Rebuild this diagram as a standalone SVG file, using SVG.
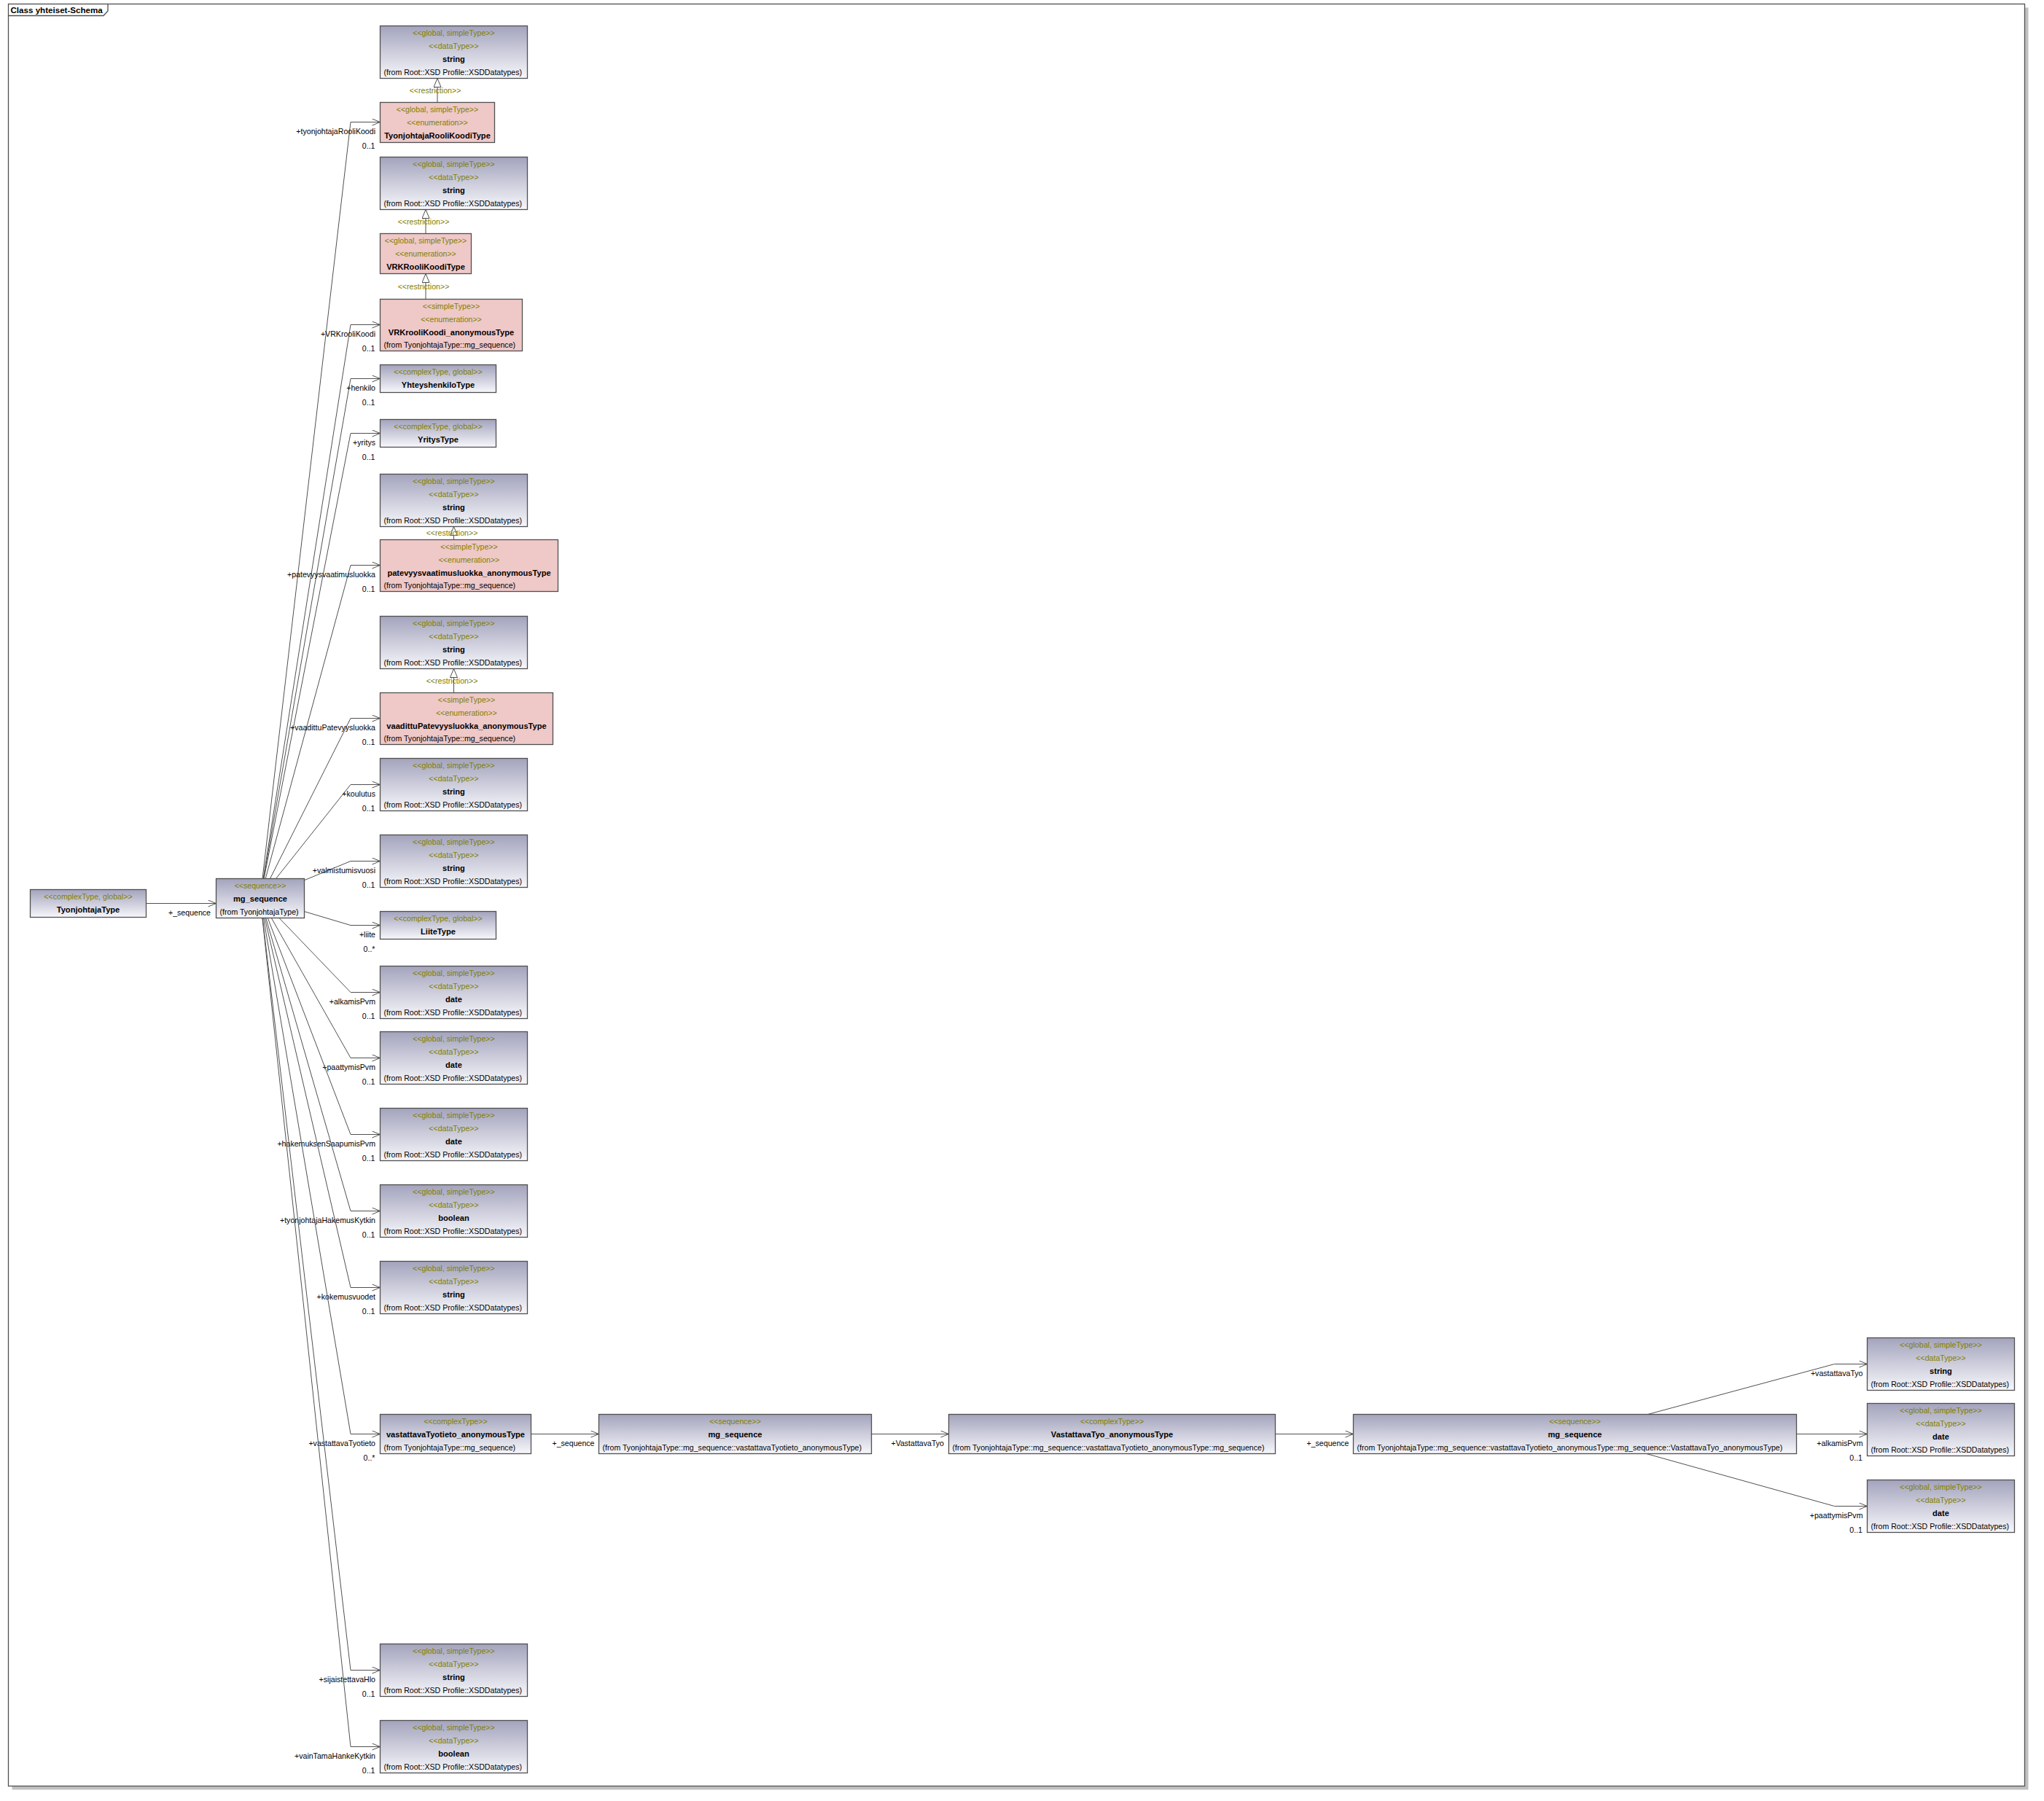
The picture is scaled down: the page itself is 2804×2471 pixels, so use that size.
<svg xmlns="http://www.w3.org/2000/svg" width="2804" height="2471" viewBox="0 0 2804 2471">
<defs>
<linearGradient id="gr" x1="0" y1="0" x2="0" y2="1">
<stop offset="0" stop-color="#a3a3bd"/>
<stop offset="1" stop-color="#f7f7fb"/>
</linearGradient>
<marker id="oa" viewBox="0 0 12 10" refX="11.5" refY="5" markerWidth="12" markerHeight="10" markerUnits="userSpaceOnUse" orient="auto">
<path d="M0.5,0.5 L11.5,5 L0.5,9.5" fill="none" stroke="#505050" stroke-width="1"/>
</marker>
<marker id="tri" viewBox="0 0 13 11" refX="12.5" refY="5.5" markerWidth="13" markerHeight="11" markerUnits="userSpaceOnUse" orient="auto">
<path d="M0.5,0.5 L12.5,5.5 L0.5,10.5 Z" fill="#ffffff" stroke="#505050" stroke-width="1"/>
</marker>
</defs>
<style>
text{font-family:"Liberation Sans",Arial,sans-serif;font-size:10.6px;fill:#000}
.s{fill:#808000;text-anchor:middle}
.n{font-weight:bold;font-size:11.1px;text-anchor:middle}
.f{text-anchor:start}
.r{text-anchor:end}
.m{text-anchor:end;fill:#00001a}
.rs{fill:#808000;text-anchor:middle}
.bx{stroke:#505050;stroke-width:1.3}
.g{fill:url(#gr)}
.p{fill:#efc8c8}
.c{fill:none;stroke:#505050;stroke-width:1}
.a{marker-end:url(#oa)}
.t{marker-end:url(#tri)}
</style>
<rect x="0" y="0" width="2804" height="2471" fill="#ffffff"/>
<g id="frame">
<rect x="16.5" y="10.5" width="2766" height="2445" fill="#c0c0c0"/>
<rect x="11.5" y="5.5" width="2766" height="2445" fill="#ffffff" stroke="#505050" stroke-width="1.3"/>
<path d="M11.5,21.5 H142 L148,15 V5.5" fill="none" stroke="#505050" stroke-width="1.3"/>
<text x="14.5" y="17.5" style="font-weight:bold;font-size:11.6px">Class yhteiset-Schema</text>
</g>
<g id="connectors">
<path class="c t" d="M600,140.5 V107.5"/>
<text class="rs" x="597" y="128.3">&lt;&lt;restriction&gt;&gt;</text>
<path class="c t" d="M584,320.5 V287.5"/>
<text class="rs" x="581" y="308.3">&lt;&lt;restriction&gt;&gt;</text>
<path class="c t" d="M584,410.5 V375.5"/>
<text class="rs" x="581" y="397.3">&lt;&lt;restriction&gt;&gt;</text>
<path class="c t" d="M622.5,740.5 V722.5"/>
<text class="rs" x="620" y="735.3">&lt;&lt;restriction&gt;&gt;</text>
<path class="c t" d="M622.5,950.5 V917.5"/>
<text class="rs" x="620" y="938.3">&lt;&lt;restriction&gt;&gt;</text>
<path class="c a" d="M200.5,1239.5 H296.5"/>
<text class="r" x="289" y="1255.5">+_sequence</text>
<path class="c a" d="M360,1205.5 L481,167.5 H521.5"/>
<text class="r" x="515" y="183.8">+tyonjohtajaRooliKoodi</text>
<text class="m" x="514.5" y="203.5">0..1</text>
<path class="c a" d="M361.1,1205.5 L481,445.5 H521.5"/>
<text class="r" x="515" y="461.8">+VRKrooliKoodi</text>
<text class="m" x="514.5" y="481.5">0..1</text>
<path class="c a" d="M361.6,1205.5 L481,519.5 H521.5"/>
<text class="r" x="515" y="535.8">+henkilo</text>
<text class="m" x="514.5" y="555.5">0..1</text>
<path class="c a" d="M362.1,1205.5 L481,594.5 H521.5"/>
<text class="r" x="515" y="610.8">+yritys</text>
<text class="m" x="514.5" y="630.5">0..1</text>
<path class="c a" d="M364.2,1205.5 L481,775.5 H521.5"/>
<text class="r" x="515" y="791.8">+patevyysvaatimusluokka</text>
<text class="m" x="514.5" y="811.5">0..1</text>
<path class="c a" d="M370.5,1205.5 L481,985.5 H521.5"/>
<text class="r" x="515" y="1001.8">+vaadittuPatevyysluokka</text>
<text class="m" x="514.5" y="1021.5">0..1</text>
<path class="c a" d="M378.5,1205.5 L481,1076.5 H521.5"/>
<text class="r" x="515" y="1092.8">+koulutus</text>
<text class="m" x="514.5" y="1112.5">0..1</text>
<path class="c a" d="M417.5,1207.7 L481,1181.5 H521.5"/>
<text class="r" x="515" y="1197.8">+valmistumisvuosi</text>
<text class="m" x="514.5" y="1217.5">0..1</text>
<path class="c a" d="M417.5,1250.6 L481,1269.5 H521.5"/>
<text class="r" x="515" y="1285.8">+liite</text>
<text class="m" x="514.5" y="1305.5">0..*</text>
<path class="c a" d="M383,1259.5 L481,1361.5 H521.5"/>
<text class="r" x="515" y="1377.8">+alkamisPvm</text>
<text class="m" x="514.5" y="1397.5">0..1</text>
<path class="c a" d="M372.3,1259.5 L481,1451.5 H521.5"/>
<text class="r" x="515" y="1467.8">+paattymisPvm</text>
<text class="m" x="514.5" y="1487.5">0..1</text>
<path class="c a" d="M367.3,1259.5 L481,1556.5 H521.5"/>
<text class="r" x="515" y="1572.8">+hakemuksenSaapumisPvm</text>
<text class="m" x="514.5" y="1592.5">0..1</text>
<path class="c a" d="M364.8,1259.5 L481,1661.5 H521.5"/>
<text class="r" x="515" y="1677.8">+tyonjohtajaHakemusKytkin</text>
<text class="m" x="514.5" y="1697.5">0..1</text>
<path class="c a" d="M363.2,1259.5 L481,1766.5 H521.5"/>
<text class="r" x="515" y="1782.8">+kokemusvuodet</text>
<text class="m" x="514.5" y="1802.5">0..1</text>
<path class="c a" d="M361.5,1259.5 L481,1967.5 H521.5"/>
<text class="r" x="515" y="1983.8">+vastattavaTyotieto</text>
<text class="m" x="514.5" y="2003.5">0..*</text>
<path class="c a" d="M360.2,1259.5 L481,2291.5 H521.5"/>
<text class="r" x="515" y="2307.8">+sijaistettavaHlo</text>
<text class="m" x="514.5" y="2327.5">0..1</text>
<path class="c a" d="M359.9,1259.5 L481,2396.5 H521.5"/>
<text class="r" x="515" y="2412.8">+vainTamaHankeKytkin</text>
<text class="m" x="514.5" y="2432.5">0..1</text>
<path class="c a" d="M728.5,1967.5 H821.5"/>
<text class="r" x="815.5" y="1984">+_sequence</text>
<path class="c a" d="M1195.5,1967.5 H1301.5"/>
<text class="r" x="1295" y="1984">+VastattavaTyo</text>
<path class="c a" d="M1749.5,1967.5 H1856.5"/>
<text class="r" x="1850.5" y="1984">+_sequence</text>
<path class="c a" d="M2260.5,1940.5 L2516.5,1871.5 H2561.5"/>
<text class="r" x="2555.5" y="1887.8">+vastattavaTyo</text>
<path class="c a" d="M2464.5,1967.5 H2561.5"/>
<text class="r" x="2555.5" y="1983.8">+alkamisPvm</text>
<text class="m" x="2555" y="2003.5">0..1</text>
<path class="c a" d="M2258.5,1994.5 L2516.5,2066.5 H2561.5"/>
<text class="r" x="2555.5" y="2082.8">+paattymisPvm</text>
<text class="m" x="2555" y="2102.5">0..1</text>
</g>
<g id="n_str1"><rect class="bx g" x="521.5" y="35.5" width="202" height="72"/><text class="s" x="622.5" y="48.5">&lt;&lt;global, simpleType&gt;&gt;</text><text class="s" x="622.5" y="66.5">&lt;&lt;dataType&gt;&gt;</text><text class="n" x="622.5" y="84.5">string</text><text class="f" x="526.5" y="102.5">(from Root::XSD Profile::XSDDatatypes)</text></g>
<g id="n_TyonjohtajaRooliKoodiType"><rect class="bx p" x="521.5" y="140.5" width="157" height="55"/><text class="s" x="600" y="153.5">&lt;&lt;global, simpleType&gt;&gt;</text><text class="s" x="600" y="171.5">&lt;&lt;enumeration&gt;&gt;</text><text class="n" x="600" y="189.5">TyonjohtajaRooliKoodiType</text></g>
<g id="n_str2"><rect class="bx g" x="521.5" y="215.5" width="202" height="72"/><text class="s" x="622.5" y="228.5">&lt;&lt;global, simpleType&gt;&gt;</text><text class="s" x="622.5" y="246.5">&lt;&lt;dataType&gt;&gt;</text><text class="n" x="622.5" y="264.5">string</text><text class="f" x="526.5" y="282.5">(from Root::XSD Profile::XSDDatatypes)</text></g>
<g id="n_VRKRooliKoodiType"><rect class="bx p" x="521.5" y="320.5" width="125" height="55"/><text class="s" x="584" y="333.5">&lt;&lt;global, simpleType&gt;&gt;</text><text class="s" x="584" y="351.5">&lt;&lt;enumeration&gt;&gt;</text><text class="n" x="584" y="369.5">VRKRooliKoodiType</text></g>
<g id="n_VRKrooliKoodi_anonymousType"><rect class="bx p" x="521.5" y="410.5" width="195" height="71"/><text class="s" x="619" y="423.5">&lt;&lt;simpleType&gt;&gt;</text><text class="s" x="619" y="441.5">&lt;&lt;enumeration&gt;&gt;</text><text class="n" x="619" y="459.5">VRKrooliKoodi_anonymousType</text><text class="f" x="526.5" y="476.5">(from TyonjohtajaType::mg_sequence)</text></g>
<g id="n_YhteyshenkiloType"><rect class="bx g" x="521.5" y="500.5" width="159" height="38"/><text class="s" x="601" y="513.5">&lt;&lt;complexType, global&gt;&gt;</text><text class="n" x="601" y="531.5">YhteyshenkiloType</text></g>
<g id="n_YritysType"><rect class="bx g" x="521.5" y="575.5" width="159" height="38"/><text class="s" x="601" y="588.5">&lt;&lt;complexType, global&gt;&gt;</text><text class="n" x="601" y="606.5">YritysType</text></g>
<g id="n_str3"><rect class="bx g" x="521.5" y="650.5" width="202" height="72"/><text class="s" x="622.5" y="663.5">&lt;&lt;global, simpleType&gt;&gt;</text><text class="s" x="622.5" y="681.5">&lt;&lt;dataType&gt;&gt;</text><text class="n" x="622.5" y="699.5">string</text><text class="f" x="526.5" y="717.5">(from Root::XSD Profile::XSDDatatypes)</text></g>
<g id="n_patevyysvaatimusluokka_anonymousType"><rect class="bx p" x="521.5" y="740.5" width="244" height="71"/><text class="s" x="643.5" y="753.5">&lt;&lt;simpleType&gt;&gt;</text><text class="s" x="643.5" y="771.5">&lt;&lt;enumeration&gt;&gt;</text><text class="n" x="643.5" y="789.5">patevyysvaatimusluokka_anonymousType</text><text class="f" x="526.5" y="806.5">(from TyonjohtajaType::mg_sequence)</text></g>
<g id="n_str4"><rect class="bx g" x="521.5" y="845.5" width="202" height="72"/><text class="s" x="622.5" y="858.5">&lt;&lt;global, simpleType&gt;&gt;</text><text class="s" x="622.5" y="876.5">&lt;&lt;dataType&gt;&gt;</text><text class="n" x="622.5" y="894.5">string</text><text class="f" x="526.5" y="912.5">(from Root::XSD Profile::XSDDatatypes)</text></g>
<g id="n_vaadittuPatevyysluokka_anonymousType"><rect class="bx p" x="521.5" y="950.5" width="237" height="71"/><text class="s" x="640" y="963.5">&lt;&lt;simpleType&gt;&gt;</text><text class="s" x="640" y="981.5">&lt;&lt;enumeration&gt;&gt;</text><text class="n" x="640" y="999.5">vaadittuPatevyysluokka_anonymousType</text><text class="f" x="526.5" y="1016.5">(from TyonjohtajaType::mg_sequence)</text></g>
<g id="n_koulutus"><rect class="bx g" x="521.5" y="1040.5" width="202" height="72"/><text class="s" x="622.5" y="1053.5">&lt;&lt;global, simpleType&gt;&gt;</text><text class="s" x="622.5" y="1071.5">&lt;&lt;dataType&gt;&gt;</text><text class="n" x="622.5" y="1089.5">string</text><text class="f" x="526.5" y="1107.5">(from Root::XSD Profile::XSDDatatypes)</text></g>
<g id="n_valmistumisvuosi"><rect class="bx g" x="521.5" y="1145.5" width="202" height="72"/><text class="s" x="622.5" y="1158.5">&lt;&lt;global, simpleType&gt;&gt;</text><text class="s" x="622.5" y="1176.5">&lt;&lt;dataType&gt;&gt;</text><text class="n" x="622.5" y="1194.5">string</text><text class="f" x="526.5" y="1212.5">(from Root::XSD Profile::XSDDatatypes)</text></g>
<g id="n_LiiteType"><rect class="bx g" x="521.5" y="1250.5" width="159" height="38"/><text class="s" x="601" y="1263.5">&lt;&lt;complexType, global&gt;&gt;</text><text class="n" x="601" y="1281.5">LiiteType</text></g>
<g id="n_alkamisPvm"><rect class="bx g" x="521.5" y="1325.5" width="202" height="72"/><text class="s" x="622.5" y="1338.5">&lt;&lt;global, simpleType&gt;&gt;</text><text class="s" x="622.5" y="1356.5">&lt;&lt;dataType&gt;&gt;</text><text class="n" x="622.5" y="1374.5">date</text><text class="f" x="526.5" y="1392.5">(from Root::XSD Profile::XSDDatatypes)</text></g>
<g id="n_paattymisPvm"><rect class="bx g" x="521.5" y="1415.5" width="202" height="72"/><text class="s" x="622.5" y="1428.5">&lt;&lt;global, simpleType&gt;&gt;</text><text class="s" x="622.5" y="1446.5">&lt;&lt;dataType&gt;&gt;</text><text class="n" x="622.5" y="1464.5">date</text><text class="f" x="526.5" y="1482.5">(from Root::XSD Profile::XSDDatatypes)</text></g>
<g id="n_hakemuksenSaapumisPvm"><rect class="bx g" x="521.5" y="1520.5" width="202" height="72"/><text class="s" x="622.5" y="1533.5">&lt;&lt;global, simpleType&gt;&gt;</text><text class="s" x="622.5" y="1551.5">&lt;&lt;dataType&gt;&gt;</text><text class="n" x="622.5" y="1569.5">date</text><text class="f" x="526.5" y="1587.5">(from Root::XSD Profile::XSDDatatypes)</text></g>
<g id="n_tyonjohtajaHakemusKytkin"><rect class="bx g" x="521.5" y="1625.5" width="202" height="72"/><text class="s" x="622.5" y="1638.5">&lt;&lt;global, simpleType&gt;&gt;</text><text class="s" x="622.5" y="1656.5">&lt;&lt;dataType&gt;&gt;</text><text class="n" x="622.5" y="1674.5">boolean</text><text class="f" x="526.5" y="1692.5">(from Root::XSD Profile::XSDDatatypes)</text></g>
<g id="n_kokemusvuodet"><rect class="bx g" x="521.5" y="1730.5" width="202" height="72"/><text class="s" x="622.5" y="1743.5">&lt;&lt;global, simpleType&gt;&gt;</text><text class="s" x="622.5" y="1761.5">&lt;&lt;dataType&gt;&gt;</text><text class="n" x="622.5" y="1779.5">string</text><text class="f" x="526.5" y="1797.5">(from Root::XSD Profile::XSDDatatypes)</text></g>
<g id="n_vastattavaTyotieto_anonymousType"><rect class="bx g" x="521.5" y="1940.5" width="207" height="54"/><text class="s" x="625" y="1953.5">&lt;&lt;complexType&gt;&gt;</text><text class="n" x="625" y="1971.5">vastattavaTyotieto_anonymousType</text><text class="f" x="526.5" y="1989.5">(from TyonjohtajaType::mg_sequence)</text></g>
<g id="n_sijaistettavaHlo"><rect class="bx g" x="521.5" y="2255.5" width="202" height="72"/><text class="s" x="622.5" y="2268.5">&lt;&lt;global, simpleType&gt;&gt;</text><text class="s" x="622.5" y="2286.5">&lt;&lt;dataType&gt;&gt;</text><text class="n" x="622.5" y="2304.5">string</text><text class="f" x="526.5" y="2322.5">(from Root::XSD Profile::XSDDatatypes)</text></g>
<g id="n_vainTamaHankeKytkin"><rect class="bx g" x="521.5" y="2360.5" width="202" height="72"/><text class="s" x="622.5" y="2373.5">&lt;&lt;global, simpleType&gt;&gt;</text><text class="s" x="622.5" y="2391.5">&lt;&lt;dataType&gt;&gt;</text><text class="n" x="622.5" y="2409.5">boolean</text><text class="f" x="526.5" y="2427.5">(from Root::XSD Profile::XSDDatatypes)</text></g>
<g id="n_TyonjohtajaType"><rect class="bx g" x="41.5" y="1220.5" width="159" height="38"/><text class="s" x="121" y="1233.5">&lt;&lt;complexType, global&gt;&gt;</text><text class="n" x="121" y="1251.5">TyonjohtajaType</text></g>
<g id="n_mg_sequence1"><rect class="bx g" x="296.5" y="1205.5" width="121" height="54"/><text class="s" x="357" y="1218.5">&lt;&lt;sequence&gt;&gt;</text><text class="n" x="357" y="1236.5">mg_sequence</text><text class="f" x="301.5" y="1254.5">(from TyonjohtajaType)</text></g>
<g id="n_mg_sequence2"><rect class="bx g" x="821.5" y="1940.5" width="374" height="54"/><text class="s" x="1008.5" y="1953.5">&lt;&lt;sequence&gt;&gt;</text><text class="n" x="1008.5" y="1971.5">mg_sequence</text><text class="f" x="826.5" y="1989.5">(from TyonjohtajaType::mg_sequence::vastattavaTyotieto_anonymousType)</text></g>
<g id="n_VastattavaTyo_anonymousType"><rect class="bx g" x="1301.5" y="1940.5" width="448" height="54"/><text class="s" x="1525.5" y="1953.5">&lt;&lt;complexType&gt;&gt;</text><text class="n" x="1525.5" y="1971.5">VastattavaTyo_anonymousType</text><text class="f" x="1306.5" y="1989.5">(from TyonjohtajaType::mg_sequence::vastattavaTyotieto_anonymousType::mg_sequence)</text></g>
<g id="n_mg_sequence3"><rect class="bx g" x="1856.5" y="1940.5" width="608" height="54"/><text class="s" x="2160.5" y="1953.5">&lt;&lt;sequence&gt;&gt;</text><text class="n" x="2160.5" y="1971.5">mg_sequence</text><text class="f" x="1861.5" y="1989.5">(from TyonjohtajaType::mg_sequence::vastattavaTyotieto_anonymousType::mg_sequence::VastattavaTyo_anonymousType)</text></g>
<g id="n_vastattavaTyo_string"><rect class="bx g" x="2561.5" y="1835.5" width="202" height="72"/><text class="s" x="2662.5" y="1848.5">&lt;&lt;global, simpleType&gt;&gt;</text><text class="s" x="2662.5" y="1866.5">&lt;&lt;dataType&gt;&gt;</text><text class="n" x="2662.5" y="1884.5">string</text><text class="f" x="2566.5" y="1902.5">(from Root::XSD Profile::XSDDatatypes)</text></g>
<g id="n_vt_alkamisPvm"><rect class="bx g" x="2561.5" y="1925.5" width="202" height="72"/><text class="s" x="2662.5" y="1938.5">&lt;&lt;global, simpleType&gt;&gt;</text><text class="s" x="2662.5" y="1956.5">&lt;&lt;dataType&gt;&gt;</text><text class="n" x="2662.5" y="1974.5">date</text><text class="f" x="2566.5" y="1992.5">(from Root::XSD Profile::XSDDatatypes)</text></g>
<g id="n_vt_paattymisPvm"><rect class="bx g" x="2561.5" y="2030.5" width="202" height="72"/><text class="s" x="2662.5" y="2043.5">&lt;&lt;global, simpleType&gt;&gt;</text><text class="s" x="2662.5" y="2061.5">&lt;&lt;dataType&gt;&gt;</text><text class="n" x="2662.5" y="2079.5">date</text><text class="f" x="2566.5" y="2097.5">(from Root::XSD Profile::XSDDatatypes)</text></g>
</svg>
